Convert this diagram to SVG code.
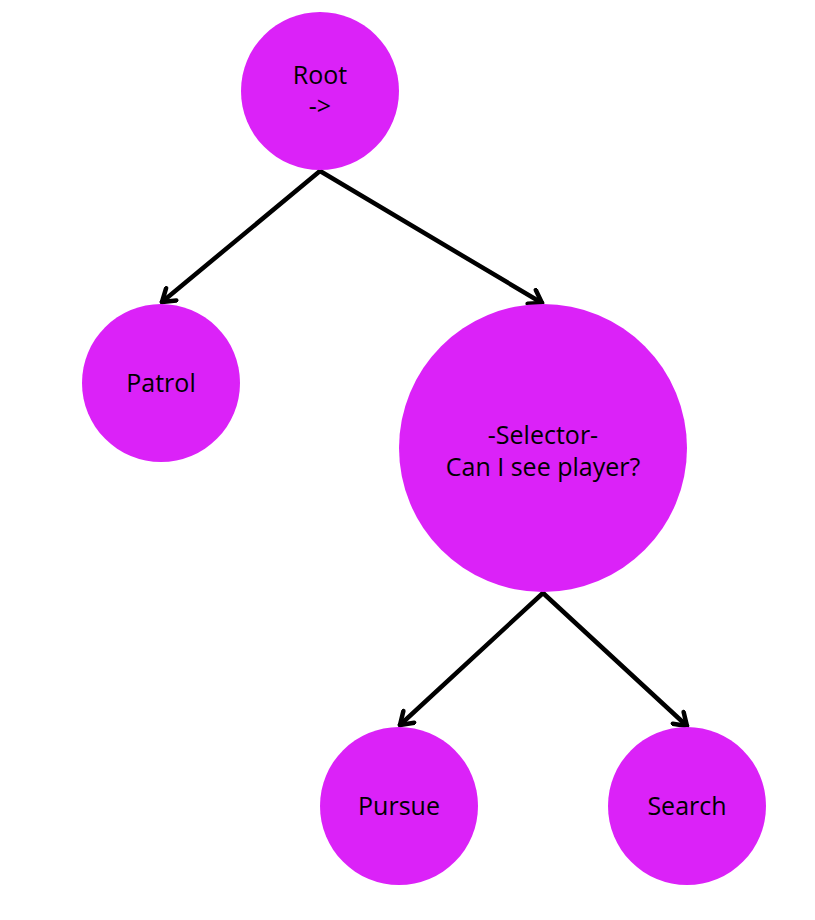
<svg xmlns="http://www.w3.org/2000/svg" width="815" height="920" viewBox="0 0 815 920">
<style>
.n{fill:#DB22F8}
.t{font-family:"Open Sans","Liberation Sans",sans-serif;font-size:25px;fill:#000;text-anchor:middle}
.c{stroke:#000;stroke-width:4.5;fill:none;stroke-linecap:round}
</style>
<defs>
<marker id="a" viewBox="0 0 20 20" refX="16" refY="10" markerWidth="20" markerHeight="20" markerUnits="userSpaceOnUse" orient="auto">
<path d="M4,2 L16,10 L4,18" fill="none" stroke="#000" stroke-width="4.5" stroke-linecap="round" stroke-linejoin="round"/>
</marker>
</defs>
<rect width="815" height="920" fill="#fff"/>
<g id="connectors">
<line class="c" x1="320" y1="171" x2="162" y2="302" marker-end="url(#a)"/>
<line class="c" x1="320" y1="171" x2="542" y2="303" marker-end="url(#a)"/>
<line class="c" x1="543" y1="593" x2="400" y2="725" marker-end="url(#a)"/>
<line class="c" x1="543" y1="593" x2="687" y2="726" marker-end="url(#a)"/>
</g>
<g id="root">
<circle class="n" cx="320" cy="91" r="79"/>
<text class="t" x="320" y="84">Root</text>
<text class="t" x="320" y="115">-&gt;</text>
</g>
<g id="patrol">
<circle class="n" cx="161" cy="383" r="79"/>
<text class="t" x="161" y="392">Patrol</text>
</g>
<g id="selector">
<circle class="n" cx="543" cy="448" r="144"/>
<text class="t" x="543" y="444">-Selector-</text>
<text class="t" x="543" y="476">Can I see player?</text>
</g>
<g id="pursue">
<circle class="n" cx="399" cy="806" r="79"/>
<text class="t" x="399" y="815">Pursue</text>
</g>
<g id="search">
<circle class="n" cx="687" cy="806" r="79"/>
<text class="t" x="687" y="815">Search</text>
</g>
</svg>
